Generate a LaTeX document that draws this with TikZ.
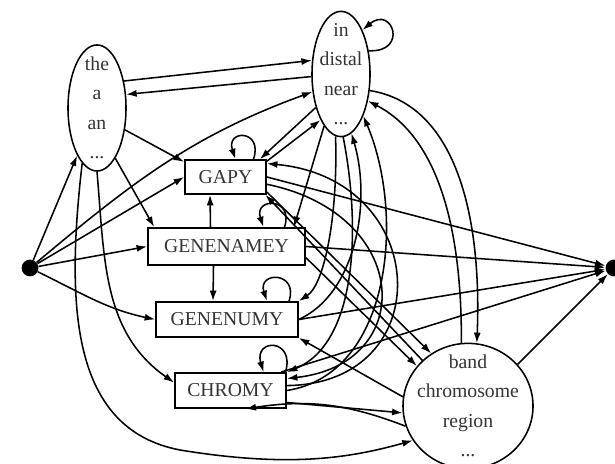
\documentclass[tikz,border=0pt]{standalone}
\usepackage{fontspec}
\setmainfont{Liberation Serif}
\usetikzlibrary{calc}
\usetikzlibrary{positioning}
\usetikzlibrary{shapes.geometric, arrows.meta}
\tikzstyle{box} = [rectangle, draw=black, line width=1.1pt, minimum height=0.88cm, text=black!80, font=\fontsize{14}{17}\selectfont]
\tikzstyle{oval} = [ellipse, draw=black, line width=1.1pt, inner sep=0pt]
\tikzstyle{words} = [align=center, text=black!80, font=\fontsize{14}{21}\selectfont]
\tikzstyle{dot} = [circle, fill=black, minimum size=0.42cm, inner sep=0pt]
\tikzstyle{arrow} = [line width=1.1pt, -{Latex[length=7.5pt,width=5pt]}]

\begin{document}
\begin{tikzpicture}[x=0.025cm, y=0.025cm]
\useasboundingbox (0,0) rectangle (615,464);

% states
\node (start) [dot] at (30,196) {};
\node (end) [dot] at (614,196) {};
\node (det) [oval, minimum width=1.45cm, minimum height=3.15cm, label={[words]center:{the\\a\\an\\...}}] at (97,356) {};
\node (prep) [oval, minimum width=1.45cm, minimum height=3.13cm, label={[words]center:{in\\distal\\near\\...}}] at (341,390) {};
\node (chr) [oval, minimum width=3.25cm, minimum height=3.13cm, label={[words]center:{band\\chromosome\\region\\...}}] at (468,58) {};
\node (gapy) [box, minimum width=2.03cm, minimum height=0.85cm] at (225.5,287) {GAPY};
\node (gname) [box, minimum width=3.93cm, minimum height=0.93cm] at (226.5,217.5) {GENENAMEY};
\node (gnum) [box, minimum width=3.55cm] at (227,144.5) {GENENUMY};
\node (chromy) [box, minimum width=2.78cm] at (230.5,73.5) {CHROMY};

% out of the start state
\draw [arrow] (start) -- (det);
\draw [arrow] (start) to[out=40,in=200] (prep.212);
\draw [arrow] (start) -- (gapy.west);
\draw [arrow] (start) -- (gname.west);
\draw [arrow] (start) to[out=-26,in=168] (gnum.west);

% determiners
\draw [arrow] (det.45) -- (prep.155);
\draw [arrow] (prep.185) -- (det.25);
\draw [arrow] (det.-38) -- (gapy.160);
\draw [arrow] (det.-70) -- (gname.165);
\draw [arrow] (det.-90) to[out=-85,in=145] (chromy.172);
\draw [arrow] (det.-105) .. controls (66,160) and (70,35) .. (180,14) .. controls (290,-4) and (350,6) .. (chr.212);

% self loops
\draw [arrow] ($(gapy.north)+(28,0)$) .. controls +(10,30) and +(-10,30) .. ($(gapy.north)+(10,0)$);
\draw [arrow] ($(gname.north)+(58,0)$) .. controls +(10,30) and +(-10,30) .. ($(gname.north)+(37,0)$);
\draw [arrow] ($(gnum.north)+(62,0)$) .. controls +(10,30) and +(-10,30) .. ($(gnum.north)+(40,0)$);
\draw [arrow] ($(chromy.north)+(55,0)$) .. controls +(10,34) and +(-10,34) .. ($(chromy.north)+(33,0)$);
\draw [arrow] (prep.40) .. controls +(40,-2) and +(30,25) .. (prep.64);

% between the boxes
\draw [arrow] ($(gname.north)+(-16,0)$) -- ($(gapy.south)+(-15.5,0)$);
\draw [arrow] ($(gname.south)+(-13,0)$) -- ($(gnum.north)+(-14,0)$);

% prepositions
\draw [arrow] (prep.233) -- ($(gapy.north east)+(-7,0)$);
\draw [arrow] ($(gapy.north east)+(0,-2)$) -- (prep.246);
\draw [arrow] (prep.252) -- ($(gname.north east)+(-12,0)$);
\draw [arrow] (prep.265) .. controls (338,250) and (325,180) .. (gnum.north east);
\draw [arrow] (prep.272) .. controls (362,230) and (355,120) .. (chromy.north east);
\draw [arrow] (gnum.east) .. controls (355,170) and (372,260) .. (prep.-80);
\draw [arrow] (chromy.east) .. controls (392,90) and (405,250) .. (prep.-62);
\draw [arrow] (chr.96) .. controls (462,250) and (432,330) .. (prep.-45);
\draw [arrow] (prep.-30) .. controls (455,360) and (482,250) .. (chr.82);

% chromosome words
\draw [arrow] (gapy.-20) -- (chr.125);
\draw [arrow] (chr.135) -- (gapy.-24);
\draw [arrow] (gname.-8) -- (chr.142);
\draw [arrow] (chr.172) -- (gnum.south east);
\draw [arrow] (chromy.-12) -- (chr.186);
\draw [arrow] (chr.198) to[bend right=15] ($(chromy.south)+(15,0)$);
\draw [arrow] (chromy.5) .. controls (440,80) and (432,285) .. (gapy.18);
\draw [arrow] (gapy.-10) .. controls (412,250) and (418,100) .. (chromy.12);

% into the end state
\draw [arrow] (gapy.east) -- (end);
\draw [arrow] (gname.east) -- (end);
\draw [arrow] (gnum.east) -- (end);
\draw [arrow] (chromy.20) -- (end);
\draw [arrow] (chr.40) -- (end);
\end{tikzpicture}
\end{document}
